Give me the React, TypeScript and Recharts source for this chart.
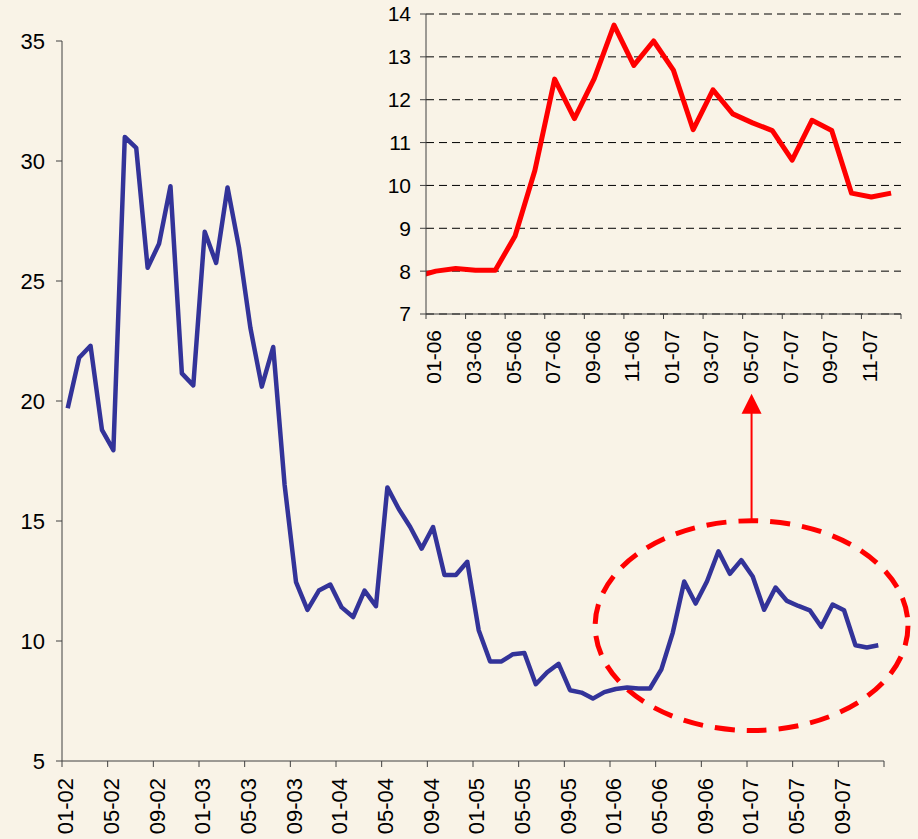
import React from 'react';
import { LineChart, Line, XAxis, YAxis, CartesianGrid, ReferenceArea } from 'recharts';

const BG = '#F9F3E7';
const FONT = '"Liberation Sans", Arial, Helvetica, sans-serif';
const AXIS = '#404040';

// Monthly values, Jan-2002 .. Dec-2007
const values = [
  19.7, 21.8, 22.3, 18.8, 17.95, 31.0, 30.55, 25.55, 26.55, 28.95, 21.15, 20.65,
  27.05, 25.75, 28.9, 26.4, 23.05, 20.6, 22.25, 16.5, 12.45, 11.3, 12.1, 12.35,
  11.4, 11.0, 12.1, 11.45, 16.4, 15.5, 14.75, 13.85, 14.75, 12.75, 12.75, 13.3,
  10.45, 9.15, 9.15, 9.45, 9.5, 8.2, 8.7, 9.05, 7.95, 7.85, 7.6, 7.87,
  8.0, 8.06, 8.02, 8.02, 8.82, 10.35, 12.48, 11.56, 12.49, 13.74, 12.8, 13.37,
  12.69, 11.3, 12.23, 11.67, 11.46, 11.28, 10.59, 11.52, 11.28, 9.82, 9.73, 9.82,
];

const mainTickLabels = [
  '01-02', '05-02', '09-02', '01-03', '05-03', '09-03', '01-04', '05-04', '09-04',
  '01-05', '05-05', '09-05', '01-06', '05-06', '09-06', '01-07', '05-07', '09-07',
];
const mainYTicks = [5, 10, 15, 20, 25, 30, 35];

const insetTickLabels = [
  '01-06', '03-06', '05-06', '07-06', '09-06', '11-06',
  '01-07', '03-07', '05-07', '07-07', '09-07', '11-07',
];
const insetYTicks = [7, 8, 9, 10, 11, 12, 13, 14];
const INSET_START = 48; // Jan-06 index in values

// highlighted region (data coordinates)
const highlight = { x1: 46.2, x2: 73.6, y1: 6.27, y2: 15.01 };

const mainData = values.map((v, i) => ({ x: i, v }));
// include Dec-05 so the line enters from the left edge (clipped)
const insetData = values.slice(INSET_START - 1).map((v, i) => ({ x: i - 1, v }));

const MAIN_W = 918;
const MAIN_H = 839;
const mainMargin = { top: 41, right: 34, left: 0, bottom: 0 };
const MAIN_YW = 62;
const mainHalf = (MAIN_W - mainMargin.left - mainMargin.right - MAIN_YW) / values.length / 2;
const mainEvery = 4;
const mainBoundaries = Array.from({ length: values.length / mainEvery + 1 }, (_, k) => -0.5 + k * mainEvery);

const INSET_LEFT = 380;
const INSET_W = 538;
const INSET_H = 400;
const insetMargin = { top: 14, right: 17, left: 0, bottom: 0 };
const INSET_YW = 46;
const insetCount = values.length - INSET_START;
const insetHalf = (INSET_W - insetMargin.left - insetMargin.right - INSET_YW) / insetCount / 2;
const insetEvery = 2;
const insetBoundaries = Array.from({ length: insetCount / insetEvery + 1 }, (_, k) => -0.5 + k * insetEvery);

function makeRotTick(labels: string[], every: number, half: number, fontSize: number) {
  return (props: any) => {
    const { x, y, payload } = props;
    const idx = Math.round(payload.value + 0.5);
    const lbl = idx % every === 0 ? labels[idx / every] : undefined;
    if (!lbl) return <g />;
    const tx = x + half - 2;
    return (
      <text
        x={tx}
        y={y}
        transform={`rotate(-90 ${tx} ${y})`}
        textAnchor="end"
        dominantBaseline="central"
        fontSize={fontSize}
        fontFamily={FONT}
        fill="#000"
      >
        {lbl}
      </text>
    );
  };
}

const HighlightShape = (p: any) => {
  const cx = p.x + p.width / 2;
  const cy = p.y + p.height / 2;
  const top = p.y;
  return (
    <g>
      <ellipse
        cx={cx}
        cy={cy}
        rx={p.width / 2}
        ry={p.height / 2}
        fill="none"
        stroke="#FF0000"
        strokeWidth={5}
        strokeDasharray="20 12"
      />
      <line x1={cx} y1={top} x2={cx} y2={top - 108} stroke="#FF0000" strokeWidth={2} />
      <polygon points={`${cx},${top - 127} ${cx - 10},${top - 107} ${cx + 10},${top - 107}`} fill="#FF0000" />
    </g>
  );
};

export default function App() {
  return (
    <div
      style={{
        position: 'absolute',
        left: 0,
        top: 0,
        width: MAIN_W,
        height: MAIN_H,
        background: BG,
        fontFamily: FONT,
        overflow: 'hidden',
      }}
    >
      <div style={{ position: 'absolute', left: 0, top: 0 }}>
        <LineChart width={MAIN_W} height={MAIN_H} data={mainData} margin={mainMargin}>
          <XAxis
            dataKey="x"
            type="number"
            domain={[-0.5, values.length - 0.5]}
            allowDataOverflow
            ticks={mainBoundaries}
            interval={0}
            height={78}
            tickSize={6}
            tickMargin={11}
            stroke={AXIS}
            tick={makeRotTick(mainTickLabels, mainEvery, mainHalf, 22)}
          />
          <YAxis
            type="number"
            domain={[5, 35]}
            ticks={mainYTicks}
            interval={0}
            width={MAIN_YW}
            tickSize={6}
            tickMargin={11}
            stroke={AXIS}
            tick={{ fill: '#000', fontSize: 22, fontFamily: FONT }}
          />
          <ReferenceArea
            x1={highlight.x1}
            x2={highlight.x2}
            y1={highlight.y1}
            y2={highlight.y2}
            ifOverflow="visible"
            shape={HighlightShape}
          />
          <Line
            type="linear"
            dataKey="v"
            stroke="#333399"
            strokeWidth={4.5}
            strokeLinejoin="round"
            dot={false}
            activeDot={false}
            isAnimationActive={false}
          />
        </LineChart>
      </div>
      <div style={{ position: 'absolute', left: INSET_LEFT, top: 0 }}>
        <LineChart width={INSET_W} height={INSET_H} data={insetData} margin={insetMargin}>
          <CartesianGrid vertical={false} stroke="#000" strokeDasharray="8 5" />
          <XAxis
            dataKey="x"
            type="number"
            domain={[-0.5, insetCount - 0.5]}
            allowDataOverflow
            ticks={insetBoundaries}
            interval={0}
            height={INSET_H - 314}
            tickSize={5}
            tickMargin={11}
            stroke={AXIS}
            tick={makeRotTick(insetTickLabels, insetEvery, insetHalf, 21)}
          />
          <YAxis
            type="number"
            domain={[7, 14]}
            ticks={insetYTicks}
            interval={0}
            width={INSET_YW}
            tickSize={6}
            tickMargin={9}
            stroke={AXIS}
            tick={{ fill: '#000', fontSize: 21, fontFamily: FONT }}
          />
          <Line
            type="linear"
            dataKey="v"
            stroke="#FF0000"
            strokeWidth={5}
            strokeLinejoin="round"
            dot={false}
            activeDot={false}
            isAnimationActive={false}
          />
        </LineChart>
      </div>
    </div>
  );
}
